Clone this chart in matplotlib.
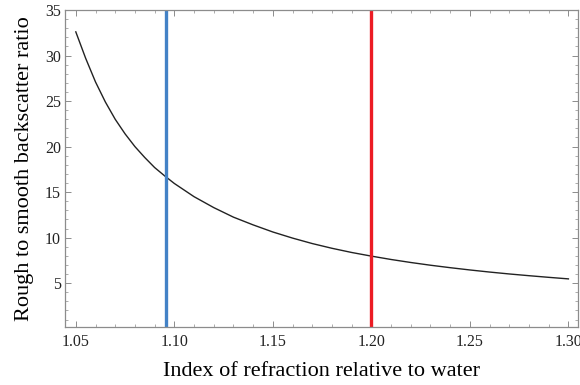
import matplotlib
matplotlib.use("Agg")
import matplotlib.pyplot as plt
from matplotlib.ticker import MultipleLocator
import numpy as np

# Curve
n_rel = [1.050, 1.055, 1.060, 1.065, 1.070, 1.075, 1.080, 1.085, 1.090, 1.095,
         1.100, 1.110, 1.120, 1.130, 1.140, 1.150, 1.160, 1.170, 1.180, 1.190,
         1.200, 1.210, 1.220, 1.230, 1.240, 1.250, 1.260, 1.270, 1.280, 1.290, 1.300]
ratio = [32.6, 29.7, 27.1, 24.9, 23.0, 21.4, 20.0, 18.8, 17.7, 16.8,
         15.95, 14.5, 13.3, 12.25, 11.4, 10.62, 9.95, 9.35, 8.83, 8.37,
         7.97, 7.60, 7.27, 6.97, 6.70, 6.45, 6.22, 6.01, 5.82, 5.64, 5.47]

# Marked indices
blue_n = 1.096
red_n = 1.20

x_ticks = [1.05, 1.10, 1.15, 1.20, 1.25, 1.30]
y_ticks = [5, 10, 15, 20, 25, 30, 35]

plt.rcParams["font.family"] = ["Liberation Serif", "DejaVu Serif"]

fig = plt.figure(figsize=(5.8, 3.85), dpi=100)
ax = fig.add_axes([0.112, 0.151, 0.885, 0.823])

ax.plot(n_rel, ratio, color="#222222", lw=1.0)
ax.axvline(blue_n, color="#4382c6", lw=2.4)
ax.axvline(red_n, color="#ec1c24", lw=2.4)

ax.set_xlim(1.0445, 1.305)
ax.set_ylim(0.2, 35)

ax.xaxis.set_minor_locator(MultipleLocator(0.01))
ax.yaxis.set_minor_locator(MultipleLocator(1))
ax.set_xticks(x_ticks)
ax.set_xticklabels([f"{v:.2f}" for v in x_ticks])
ax.set_yticks(y_ticks)

for s in ax.spines.values():
    s.set_color("#8c8c8c")
    s.set_linewidth(0.9)

ax.tick_params(which="both", direction="in", top=True, right=True,
               color="#8c8c8c", labelsize=11.5, labelcolor="#222222")
ax.tick_params(which="major", length=4, width=0.7, pad=5)
ax.tick_params(which="minor", length=2, width=0.5)
ax.tick_params(axis="y", pad=3)

ax.set_xlabel("Index of refraction relative to water", fontsize=16, labelpad=9)
ax.set_ylabel("Rough to smooth backscatter ratio", fontsize=16, labelpad=8)

fig.savefig("out.png", dpi=100)
